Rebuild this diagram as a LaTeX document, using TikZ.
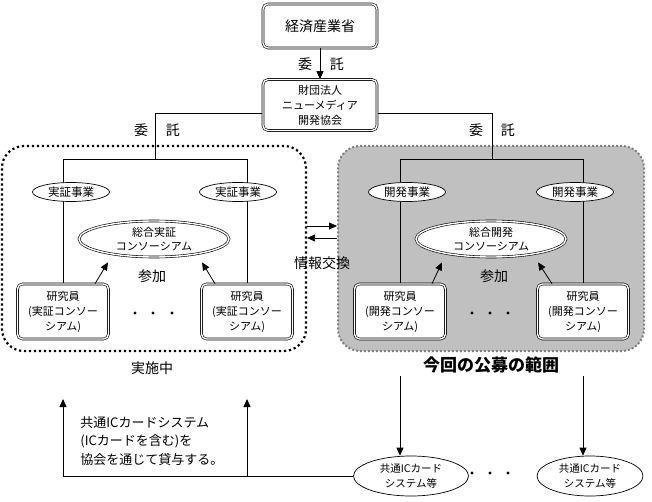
\documentclass[tikz,border=0pt]{standalone}
\usepackage{fontspec}
\setmainfont{Noto Sans CJK JP}
\usetikzlibrary{arrows.meta,shapes.geometric,calc}
\pgfdeclarelayer{frames}
\pgfdeclarelayer{lines}
\pgfsetlayers{frames,lines,main}
\definecolor{frgray}{RGB}{192,192,192}
\definecolor{dotgray}{RGB}{128,128,128}
\newcommand\myfs[2]{\fontsize{#1}{#2}\selectfont}
\begin{document}
\begin{tikzpicture}[x=1pt,y=-1pt,
  every path/.style={line width=0.8pt},
  dbox/.style={draw, double, double distance=1.4pt, line width=0.6pt, rounded corners=5pt,
    fill=white, inner sep=0pt, align=center, font=\myfs{11}{15}},
  rbox/.style={dbox, minimum width=91, minimum height=55},
  pill/.style={draw, ellipse, line width=0.7pt, fill=white, inner sep=0pt,
    minimum width=77, minimum height=19, font=\myfs{11.5}{13}},
  oval/.style={draw, ellipse, double, double distance=1.4pt, line width=0.6pt, fill=white,
    inner sep=0pt, minimum width=150, minimum height=36, align=center, font=\myfs{11}{13.5}},
  icell/.style={draw, ellipse, line width=0.7pt, fill=white, inner sep=0pt,
    minimum height=40, align=center, font=\myfs{10.5}{15}},
  lbl/.style={inner sep=0pt, font=\myfs{14}{16}},
  frameA/.style={draw, rounded corners=22pt, line width=2.2pt, dash pattern=on 2.2pt off 2.8pt,
    minimum width=304, minimum height=205, inner sep=0pt},
  frameB/.style={draw=dotgray, fill=frgray, rounded corners=22pt, line width=2pt,
    dash pattern=on 2pt off 2pt, minimum width=306, minimum height=205, inner sep=0pt},
  arr/.style={-{Triangle[length=8pt,width=7pt]}, line width=0.8pt}
]
\useasboundingbox (0,0) rectangle (652,502);

% frames
\begin{pgfonlayer}{frames}
\node[frameA] (fL) at (154,248.5) {};
\node[frameB] (fR) at (491,248.5) {};
\end{pgfonlayer}

% top
\node[dbox, minimum width=114, minimum height=44, font=\myfs{14}{16}] (meti) at (320,26) {経済産業省};
\node[dbox, minimum width=114, minimum height=51] (assoc) at (320,105) {財団法人\\ニューメディア\\開発協会};
\node[lbl] (k0) at (321,64) {委\hspace{18pt}託};
\node[lbl] (k1) at (157,130) {委\hspace{18pt}託};
\node[lbl] (k2) at (492,130) {委\hspace{18pt}託};

% left group
\node[pill] (jL1) at (71,192) {実証事業};
\node[pill] (jL2) at (238,192) {実証事業};
\node[oval] (sogoL) at (154,239) {総合実証\\コンソーシアム};
\node[rbox] (rL1) at (63,311.5) {研究員\\(実証コンソー\\シアム)};
\node[rbox] (rL2) at (247,311.5) {研究員\\(実証コンソー\\シアム)};
\node[lbl] (sanL) at (152,276) {参加};
\node[lbl] (jissi) at (152,368) {実施中};

% right group
\node[pill] (kR1) at (407,192) {開発事業};
\node[pill] (kR2) at (575,192) {開発事業};
\node[oval] (sogoR) at (491,239) {総合開発\\コンソーシアム};
\node[rbox] (rR1) at (400,311.5) {研究員\\(開発コンソー\\シアム)};
\node[rbox] (rR2) at (583,311.5) {研究員\\(開発コンソー\\シアム)};
\node[lbl] (sanR) at (494,276) {参加};
\node[inner sep=0pt, font=\bfseries\myfs{17}{19}] (koubo) at (491,365) {今回の公募の範囲};

\node[lbl] (joho) at (322,263) {情報交換};

% bottom
\node[anchor=west, align=left, inner sep=0pt, font=\myfs{13}{18.5}] (note) at (80,441)
  {共通ICカードシステム\\(ICカードを含む)を\\協会を通じて貸与する。};
\node[icell, minimum width=115] (ic1) at (411,476) {共通ICカード\\システム等};
\node[icell, minimum width=106] (ic2) at (590,476) {共通ICカード\\システム等};

% coordinates
\coordinate (jl) at (155,159);
\coordinate (jr) at (492,159);
\coordinate (dA) at (400,376);
\coordinate (dB) at (583,376);
\coordinate (uA) at (63,476);
\coordinate (uB) at (247,476);
\coordinate (uAt) at (63,399);
\coordinate (uBt) at (247,399);

% lines
\begin{pgfonlayer}{lines}
\draw ($(assoc.west)+(0,8)$) -| (jl);
\draw ($(assoc.east)+(0,8)$) -| (jr);
\draw (rL1.north) |- (rL2.north |- jl) -- (rL2.north);
\draw (rR1.north) |- (rR2.north |- jr) -- (rR2.north);
\end{pgfonlayer}

\draw[arr] (meti.south) -- (assoc.north);

% participation arrows
\draw[arr] ($(rL1.north)+(32,0)$) -- ($(sogoL.south)+(-46,5)$);
\draw[arr] ($(rL2.north)+(-32,0)$) -- ($(sogoL.south)+(48,5)$);
\draw[arr] ($(rR1.north)+(32,0)$) -- ($(sogoR.south)+(-49,5)$);
\draw[arr] ($(rR2.north)+(-31,0)$) -- ($(sogoR.south)+(47,5)$);

% info exchange
\draw[arr] ($(fL.east)+(0,-22.5)$) -- ($(fR.west)+(0,-22.5)$);
\draw[arr] ($(fR.west)+(0,-10.5)$) -- ($(fL.east)+(0,-10.5)$);

% dots
\foreach \x in {135,153,172} \fill (\x,313) circle (1.7);
\foreach \x in {472,490,508} \fill (\x,313) circle (1.7);
\foreach \x in {472,490,508} \fill (\x,473) circle (1.7);

% bottom connectors
\draw[arr] (dA) -- (dA |- ic1.north);
\draw[arr] (dB) -- (dB |- ic2.north);
\draw (ic1.west) -- (uA);
\draw[arr] (uA) -- (uAt);
\draw[arr] (uB) -- (uBt);
\end{tikzpicture}
\end{document}
